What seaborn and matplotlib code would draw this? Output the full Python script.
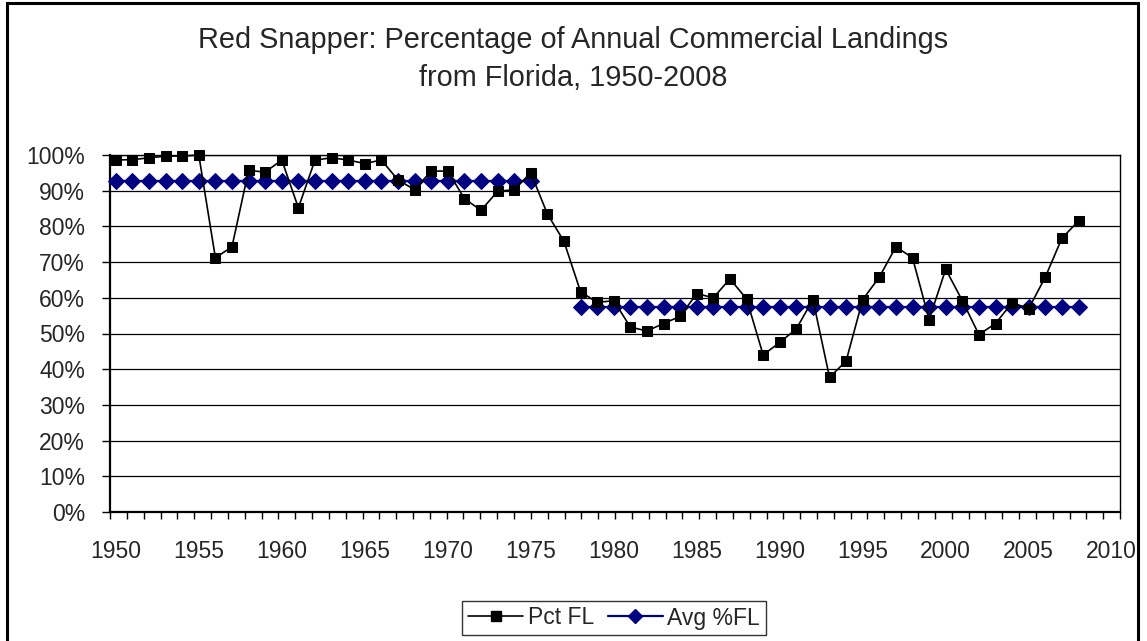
import numpy as np
import pandas as pd
import matplotlib
matplotlib.use("Agg")
import matplotlib.pyplot as plt
import matplotlib.ticker as mticker
from matplotlib.patches import Rectangle
import seaborn as sns

# values (percent)
years = list(range(1950, 2009))
pct_fl = [98.6, 98.7, 99.2, 99.7, 99.7, 100.0, 71.2, 74.3, 95.7, 95.2,
          98.6, 85.2, 98.6, 99.2, 98.6, 97.6, 98.6, 93.0, 90.3, 95.5,
          95.5, 87.8, 84.5, 89.8, 90.3, 95.0, 83.5, 75.8, 61.7, 58.7,
          59.2, 51.8, 50.7, 52.8, 54.8, 61.2, 60.0, 65.3, 59.7, 44.0,
          47.5, 51.3, 59.5, 37.7, 42.3, 59.5, 65.8, 74.3, 71.2, 53.9,
          68.0, 59.2, 49.7, 52.8, 58.6, 57.0, 65.8, 76.7, 81.5]
avg_early_years = list(range(1950, 1976))
avg_early = [92.7] * len(avg_early_years)
avg_late_years = list(range(1978, 2009))
avg_late = [57.3] * len(avg_late_years)
year_labels = list(range(1950, 2011, 5))

sns.set_style("white")
plt.rcParams["font.family"] = ["Liberation Sans", "DejaVu Sans"]

fig = plt.figure(figsize=(11.47, 6.41), dpi=100)
ax = fig.add_axes([110 / 1147, 1 - 512 / 641, 1010 / 1147, 357 / 641])

navy = "#000080"
df_pct = pd.DataFrame({"year": years, "pct": pct_fl})
df_avg1 = pd.DataFrame({"year": avg_early_years, "pct": avg_early})
df_avg2 = pd.DataFrame({"year": avg_late_years, "pct": avg_late})

sns.lineplot(data=df_avg1, x="year", y="pct", ax=ax, color=navy, lw=1.6,
             marker="D", markersize=8, markeredgecolor=navy, clip_on=False, zorder=3)
sns.lineplot(data=df_avg2, x="year", y="pct", ax=ax, color=navy, lw=1.6,
             marker="D", markersize=8, markeredgecolor=navy, clip_on=False, zorder=3)
sns.lineplot(data=df_pct, x="year", y="pct", ax=ax, color="black", lw=1.2,
             marker="s", markersize=7.5, markeredgecolor="black", clip_on=False, zorder=4)

# Excel-style axis: tick marks are spread evenly over the axis, labels sit on the years
x0, x1 = 1949.65, 2010.5
ax.set_xlim(x0, x1)
ax.set_ylim(0, 100)
ax.xaxis.set_major_locator(mticker.FixedLocator(year_labels))
ax.xaxis.set_minor_locator(mticker.FixedLocator(np.linspace(x0, x1, 61)))
ax.yaxis.set_major_locator(mticker.MultipleLocator(10))
ax.yaxis.set_major_formatter(mticker.FuncFormatter(lambda v, p: f"{v:.0f}%"))
ax.tick_params(axis="both", which="both", direction="out", width=1,
               color="black", labelsize=16.5)
ax.tick_params(axis="x", which="major", bottom=True, length=0, pad=20)
ax.tick_params(axis="x", which="minor", bottom=True, length=5)
ax.tick_params(axis="y", left=True, length=6, pad=12)
ax.set_xlabel("")
ax.set_ylabel("")
ax.grid(axis="y", color="black", lw=0.9)
ax.set_axisbelow(True)
for s in ax.spines.values():
    s.set_color("black")
    s.set_linewidth(1)
ax.spines["left"].set_linewidth(1.6)
ax.spines["bottom"].set_linewidth(1.6)

fig.text(0.5, 1 - 59 / 641,
         "Red Snapper: Percentage of Annual Commercial Landings\nfrom Florida, 1950-2008",
         ha="center", va="center", fontsize=20.8, linespacing=1.45)

h1 = plt.Line2D([], [], color="black", lw=1.2, marker="s", markersize=7.5)
h2 = plt.Line2D([], [], color=navy, lw=1.6, marker="D", markersize=7)
leg = fig.legend([h1, h2], ["Pct FL", "Avg %FL"], loc="center",
                 bbox_to_anchor=(614 / 1147, 1 - 618 / 641), ncol=2,
                 fontsize=16.5, frameon=True, fancybox=False, shadow=False,
                 handlelength=2.4, handletextpad=0.2, columnspacing=0.6,
                 borderpad=0.25, borderaxespad=0)
leg.get_frame().set_edgecolor("black")
leg.get_frame().set_linewidth(1)

fig.patches.append(Rectangle((7 / 1147, -0.02), 1131 / 1147, 1.02 - 3 / 641,
                             transform=fig.transFigure, fill=False,
                             edgecolor="black", lw=2.2))

fig.savefig("out.png", dpi=100, facecolor="white")
